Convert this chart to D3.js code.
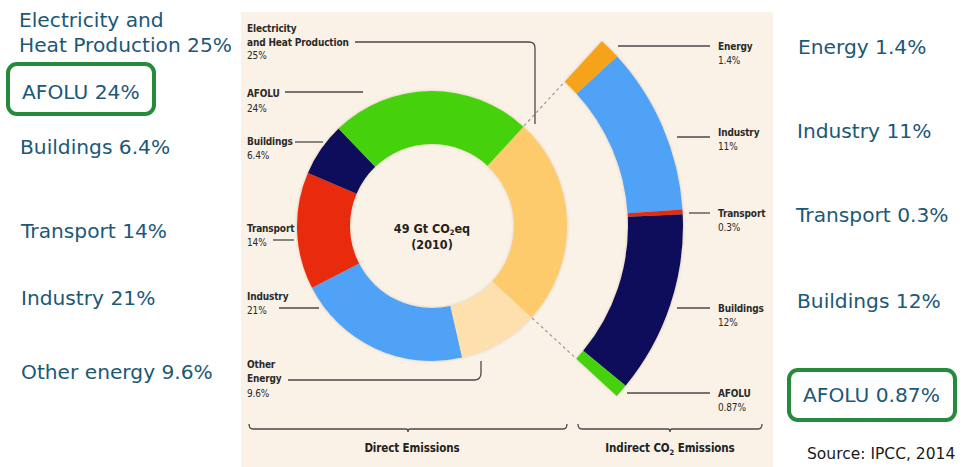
<!DOCTYPE html>
<html>
<head>
<meta charset="utf-8">
<script src="https://cdn.jsdelivr.net/npm/d3@7"></script>
<style>
  html, body { margin: 0; padding: 0; background: #ffffff; }
  svg { display: block; }
</style>
</head>
<body>
<svg id="chart" width="980" height="467"></svg>
<script>
// Global greenhouse gas emissions by economic sector, 2010 (IPCC AR5, 2014)
const directCats   = ["Electricity and Heat Production", "Other Energy", "Industry", "Transport", "Buildings", "AFOLU"];
const directVals   = [25, 9.6, 21, 14, 6.4, 24];
const directColors = ["#fdca6c", "#fde0ae", "#4fa2f6", "#e8290b", "#0b0e5c", "#45d20e"];

const indirectCats   = ["Energy", "Industry", "Transport", "Buildings", "AFOLU"];
const indirectVals   = [1.4, 11, 0.3, 12, 0.87];
const indirectColors = ["#f6a31c", "#4fa2f6", "#e8290b", "#0b0e5c", "#45d20e"];

// Printed labels inside the figure panel
const directLabels = [
  { lines: ["Electricity", "and Heat Production", "25%"], bold: 2 },
  { lines: ["AFOLU", "24%"], bold: 1 },
  { lines: ["Buildings", "6.4%"], bold: 1 },
  { lines: ["Transport", "14%"], bold: 1 },
  { lines: ["Industry", "21%"], bold: 1 },
  { lines: ["Other", "Energy", "9.6%"], bold: 2 }
];
const indirectLabels = [
  { lines: ["Energy", "1.4%"] },
  { lines: ["Industry", "11%"] },
  { lines: ["Transport", "0.3%"] },
  { lines: ["Buildings", "12%"] },
  { lines: ["AFOLU", "0.87%"] }
];

// Large callouts beside the figure
const sideLeft  = [["Electricity and", "Heat Production 25%"], ["AFOLU 24%"], ["Buildings 6.4%"], ["Transport 14%"], ["Industry 21%"], ["Other energy 9.6%"]];
const sideRight = [["Energy 1.4%"], ["Industry 11%"], ["Transport 0.3%"], ["Buildings 12%"], ["AFOLU 0.87%"]];
const totalLabel = ["49 Gt CO", "eq", "(2010)"];
const sourceNote = "Source: IPCC, 2014";

const svg = d3.select("#chart");
const W = 980, H = 467;

const defs = svg.append("defs");
const f = defs.append("filter").attr("id", "soft").attr("x", "-20%").attr("y", "-20%").attr("width", "140%").attr("height", "140%");
f.append("feDropShadow").attr("dx", 0).attr("dy", 0).attr("stdDeviation", 1.6)
  .attr("flood-color", "#8a6f4a").attr("flood-opacity", 0.35);

// Panel
svg.append("rect").attr("x", 241).attr("y", 12).attr("width", 532).attr("height", H - 12).attr("fill", "#faf2e6");

const cx = 432, cy = 226;
const rOuter = 135, rInner = 82;
const rIndIn = 196, rIndOut = 251;
const a0 = 42.6 * Math.PI / 180;

const pieDirect = d3.pie().sort(null).value(d => d).startAngle(a0).endAngle(a0 + 2 * Math.PI);
const directArcs = pieDirect(directVals);
const elec = directArcs[0];
const pieIndirect = d3.pie().sort(null).value(d => d).startAngle(elec.startAngle).endAngle(elec.endAngle);
const indirectArcs = pieIndirect(indirectVals);

const g = svg.append("g").attr("transform", `translate(${cx},${cy})`);
const arcDirect = d3.arc().innerRadius(rInner).outerRadius(rOuter);
const arcIndirect = d3.arc().innerRadius(rIndIn).outerRadius(rIndOut);

const gd = g.append("g").attr("filter", "url(#soft)");
gd.selectAll("path").data(directArcs).join("path")
  .attr("d", arcDirect).attr("fill", (d, i) => directColors[i]);
const gi = g.append("g").attr("filter", "url(#soft)");
gi.selectAll("path").data(indirectArcs).join("path")
  .attr("d", arcIndirect).attr("fill", (d, i) => indirectColors[i]);

// Dashed connectors from the electricity slice to the indirect arc
const polar = (a, r) => [Math.sin(a) * r, -Math.cos(a) * r];
[elec.startAngle, elec.endAngle].forEach(a => {
  const p1 = polar(a, rOuter + 1), p2 = polar(a, rIndIn - 1);
  g.append("line").attr("x1", p1[0]).attr("y1", p1[1]).attr("x2", p2[0]).attr("y2", p2[1])
    .attr("stroke", "#9a9a9a").attr("stroke-width", 1.2).attr("stroke-dasharray", "3,3");
});

const smallFont = "'DejaVu Sans Condensed','Liberation Sans Narrow',sans-serif";

// Centre total
const ct = g.append("text").attr("text-anchor", "middle")
  .attr("font-family", smallFont)
  .attr("font-weight", "bold").attr("font-size", 12.5).attr("fill", "#222");
const t1 = ct.append("tspan").attr("x", 0).attr("y", 7);
t1.append("tspan").text(totalLabel[0]);
t1.append("tspan").attr("font-size", 7.5).attr("dy", 2).text("2");
t1.append("tspan").attr("dy", -2).text(totalLabel[1]);
ct.append("tspan").attr("x", 0).attr("y", 23).text(totalLabel[2]);

// Small printed labels
const lineColor = "#4a4a4a";
function smallLabel(x, yBase, lines, boldCount, lh) {
  const t = svg.append("text").attr("font-family", smallFont).attr("font-size", 10)
    .attr("letter-spacing", -0.15).attr("fill", "#2a2a2a");
  lines.forEach((s, i) => {
    t.append("tspan").attr("x", x).attr("y", yBase + i * lh)
      .attr("font-weight", i < boldCount ? "bold" : "normal").text(s);
  });
}
const dlPos = [
  { y: 32, lh: 13.7 }, { y: 97, lh: 14.5 }, { y: 145, lh: 14 },
  { y: 232, lh: 14 }, { y: 300, lh: 13.5 }, { y: 368, lh: 14.3 }
];
directLabels.forEach((d, i) => smallLabel(247, dlPos[i].y, d.lines, d.bold, dlPos[i].lh));
const ilPos = [50, 136, 217, 312, 397];
indirectLabels.forEach((d, i) => smallLabel(718, ilPos[i], d.lines, 1, 13.5));

// Leader lines
const leaders = [
  "M355,42 H529 Q535,42 535,48 V124",
  "M285,92 H363",
  "M295,142 H323",
  "M273,240 H294",
  "M279,308 H319",
  "M288,380 H474 Q481,380 481,373 V361",
  "M618,46 H710",
  "M677,137 H710",
  "M689,213 H710",
  "M677,308 H710",
  "M627,393 H710"
];
svg.append("g").selectAll("path").data(leaders).join("path")
  .attr("d", d => d).attr("fill", "none").attr("stroke", lineColor).attr("stroke-width", 1.3);

// Brackets
function bracket(x1, x2, y) {
  const m = (x1 + x2) / 2;
  svg.append("path")
    .attr("d", `M${x1},${y - 5} Q${x1},${y} ${x1 + 4},${y} H${m - 2} Q${m},${y} ${m},${y + 3} Q${m},${y} ${m + 2},${y} H${x2 - 4} Q${x2},${y} ${x2},${y - 5}`)
    .attr("fill", "none").attr("stroke", lineColor).attr("stroke-width", 1.3);
}
bracket(249, 567, 429);
bracket(578, 762, 429);
const bt = svg.append("g").attr("font-family", smallFont).attr("font-weight", "bold").attr("font-size", 11.5)
  .attr("letter-spacing", -0.1).attr("fill", "#222").attr("text-anchor", "middle");
bt.append("text").attr("x", 412).attr("y", 452).text("Direct Emissions");
const it = bt.append("text").attr("x", 670).attr("y", 452);
it.append("tspan").text("Indirect CO");
it.append("tspan").attr("font-size", 7.5).attr("dy", 3).text("2");
it.append("tspan").attr("dy", -3).text(" Emissions");

// Side callouts
const bigFont = "'DejaVu Sans', Verdana, sans-serif";
const teal = "#1c5878";
function bigLabel(x, y, lines) {
  const t = svg.append("text").attr("font-family", bigFont).attr("font-size", 20.2).attr("fill", teal);
  lines.forEach((s, i) => t.append("tspan").attr("x", x).attr("y", y + i * 25).text(s));
}
const slPos = [[19, 27], [22, 99], [20, 154], [21, 238], [21, 305], [21, 379]];
sideLeft.forEach((l, i) => bigLabel(slPos[i][0], slPos[i][1], l));
const srPos = [[798, 54], [797, 138], [796, 222], [797, 308], [803, 402]];
sideRight.forEach((l, i) => bigLabel(srPos[i][0], srPos[i][1], l));

// Highlight boxes for AFOLU
const boxGreen = "#258a3b";
svg.append("rect").attr("x", 8).attr("y", 64).attr("width", 146).attr("height", 50).attr("rx", 9)
  .attr("fill", "none").attr("stroke", boxGreen).attr("stroke-width", 4);
svg.append("rect").attr("x", 789).attr("y", 370).attr("width", 166).attr("height", 50).attr("rx", 9)
  .attr("fill", "none").attr("stroke", boxGreen).attr("stroke-width", 4);

svg.append("text").attr("x", 807).attr("y", 459).attr("font-family", bigFont).attr("font-size", 15.5)
  .attr("fill", "#1a1a1a").text(sourceNote);
</script>
</body>
</html>
